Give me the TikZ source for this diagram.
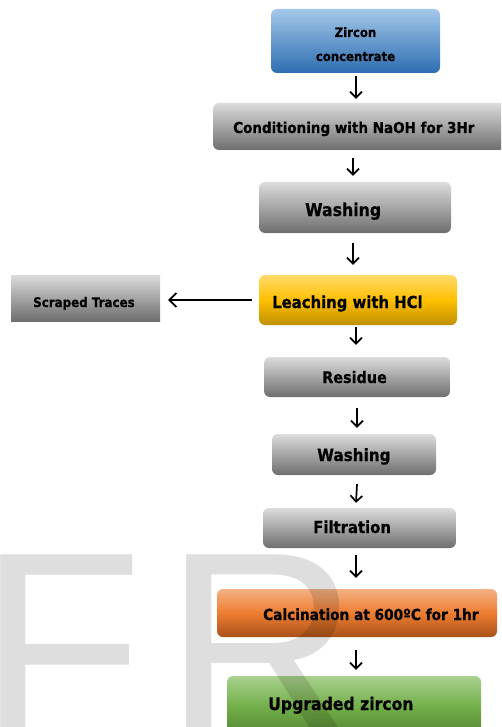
\documentclass[tikz,border=0pt]{standalone}
\usepackage{fontspec}
\newfontfamily\lblfont[FakeStretch=0.9,FakeBold=0.6]{DejaVu Sans Bold}
\newfontfamily\wmfont{Liberation Sans}
\usetikzlibrary{arrows.meta}
\definecolor{gry1}{HTML}{DCDCDC}
\definecolor{gry2}{HTML}{6E6E6E}
\definecolor{blu1}{HTML}{A4C8EA}
\definecolor{blu2}{HTML}{2D6DB0}
\definecolor{yel1}{HTML}{FFDA6A}
\definecolor{yel2}{HTML}{FFC000}
\definecolor{yel3}{HTML}{BF9000}
\definecolor{ora1}{HTML}{F4B183}
\definecolor{ora2}{HTML}{ED7D31}
\definecolor{ora3}{HTML}{A9521A}
\definecolor{grn1}{HTML}{A9D18E}
\definecolor{grn2}{HTML}{70AD47}
\definecolor{grn3}{HTML}{4F7D31}
\begin{document}
\begin{tikzpicture}[x=1pt,y=-1pt,
  box/.style={rounded corners=6pt, inner sep=0pt, shading=axis, draw=none},
  graybox/.style={box, top color=gry1, bottom color=gry2},
  lbl/.style={anchor=base west, inner sep=0pt, font=\lblfont},
  arr/.style={line width=1.7pt, -{Straight Barb[length=6pt,width=12pt]}},
  wm/.style={anchor=base west, inner sep=0pt, text=black, text opacity=0.13, font=\wmfont\fontsize{270}{270}\selectfont}]
\clip (0,0) rectangle (501,727);
% boxes
\node[box, top color=blu1, bottom color=blu2, minimum width=169pt, minimum height=64pt] (b1) at (355.5,41) {};
\node[graybox, minimum width=292pt, minimum height=47pt] (b2) at (359,126.5) {};
\node[graybox, minimum width=192pt, minimum height=51pt] (b3) at (355,207.5) {};
\node[box, top color=yel1, bottom color=yel3, middle color=yel2, minimum width=198pt, minimum height=50pt] (b4) at (358,300) {};
\node[graybox, rounded corners=0pt, minimum width=149pt, minimum height=46pt] (sc) at (85.5,298) {};
\node[graybox, minimum width=186pt, minimum height=40pt] (b5) at (357,377) {};
\node[graybox, minimum width=164pt, minimum height=41pt] (b6) at (354,454.5) {};
\node[graybox, minimum width=193pt, minimum height=40pt] (b7) at (359.5,528) {};
\node[box, top color=ora1, bottom color=ora3, middle color=ora2, minimum width=280pt, minimum height=48pt] (b8) at (357,613) {};
\node[box, top color=grn1, bottom color=grn3, middle color=grn2, minimum width=254pt, minimum height=64pt] (b9) at (354,708) {};
% labels
\node[lbl, anchor=base, font=\lblfont\fontsize{13}{13}\selectfont] (t1a) at (355.5,37) {Zircon};
\node[lbl, anchor=base, font=\lblfont\fontsize{13}{13}\selectfont] (t1b) at (355.5,61) {concentrate};
\node[lbl, font=\lblfont\fontsize{15}{15}\selectfont] (t2) at (233,133) {Conditioning with NaOH for 3Hr};
\node[lbl, font=\lblfont\fontsize{17.5}{17.5}\selectfont] (t3) at (305,216) {Washing};
\node[lbl, font=\lblfont\fontsize{16.5}{16.5}\selectfont] (t4) at (272,308) {Leaching with HCl};
\node[lbl, font=\lblfont\fontsize{13.2}{13.2}\selectfont] (tsc) at (33,307) {Scraped Traces};
\node[lbl, font=\lblfont\fontsize{16}{16}\selectfont] (t5) at (322,383) {Residue};
\node[lbl, font=\lblfont\fontsize{16.9}{16.9}\selectfont] (t6) at (317,461) {Washing};
\node[lbl, font=\lblfont\fontsize{16.5}{16.5}\selectfont] (t7) at (313,533) {Filtration};
\node[lbl, font=\lblfont\fontsize{15.2}{15.2}\selectfont] (t8) at (263,620) {Calcination at 600ºC for 1hr};
\node[lbl, font=\lblfont\fontsize{17.4}{17.4}\selectfont] (t9) at (268,710) {Upgraded zircon};
% arrows
\draw[arr] ([xshift=0.5pt,yshift=-3pt]b1.south) -- ([xshift=-3pt,yshift=4pt]b2.north);
\draw[arr] ([xshift=-6pt,yshift=-8pt]b2.south) -- ([xshift=-2pt,yshift=6pt]b3.north);
\draw[arr] ([xshift=-2pt,yshift=-10pt]b3.south) -- ([xshift=-5pt,yshift=10pt]b4.north);
\draw[arr] ([xshift=-2pt,yshift=-2pt]b4.south) -- ([xshift=-1pt,yshift=12pt]b5.north);
\draw[arr] ([xshift=0pt,yshift=-11pt]b5.south) -- ([xshift=3pt,yshift=6pt]b6.north);
\draw[arr] ([xshift=3pt,yshift=-9pt]b6.south) -- ([xshift=-3.5pt,yshift=5pt]b7.north);
\draw[arr] ([xshift=-3.5pt,yshift=-7pt]b7.south) -- ([xshift=-1pt,yshift=11pt]b8.north);
\draw[arr] ([xshift=-1pt,yshift=-13pt]b8.south) -- ([xshift=2pt,yshift=6pt]b9.north);
\draw[line width=1.7pt, -{Straight Barb[length=7pt,width=14pt]}, shorten <=7pt, shorten >=8pt] (b4.west) -- (sc.east |- b4.west);
% watermark
\node[wm] (wmF) at (-22,740) {F};
\node[wm] (wmR) at (164,740) {R};
\end{tikzpicture}
\end{document}
